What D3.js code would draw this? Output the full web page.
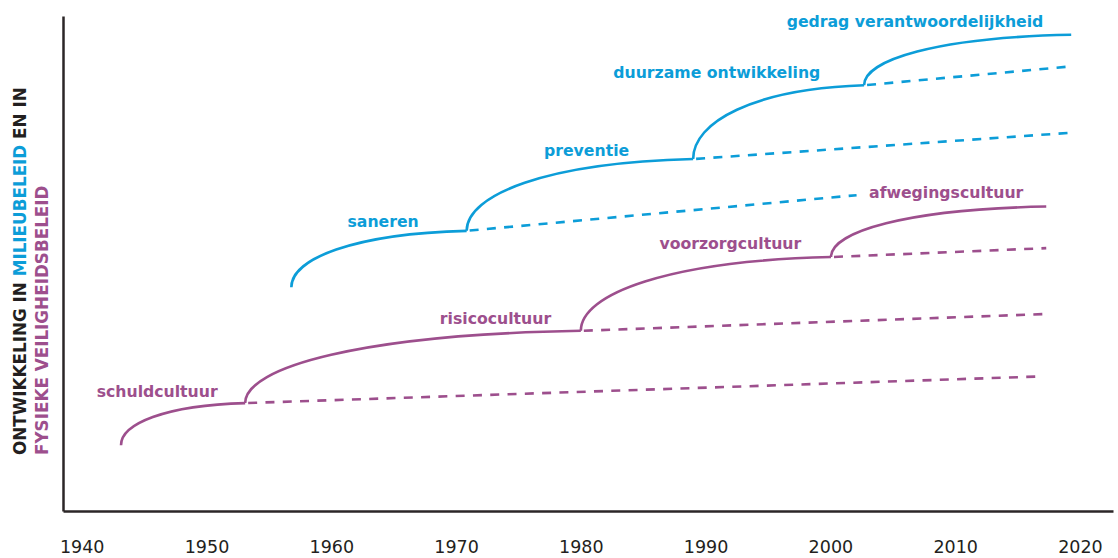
<!DOCTYPE html>
<html lang="nl">
<head>
<meta charset="utf-8">
<title>Ontwikkeling milieubeleid en fysieke veiligheidsbeleid</title>
<script src="https://d3js.org/d3.v7.min.js"></script>
<style>
    body { margin: 0; background: #fff; }
    .axis path { stroke: #2b2627; stroke-width: 2.5; }
    .axis text { font-family: "DejaVu Sans", Verdana, sans-serif; font-size: 17.5px; fill: #231f20; }
    .phase { font-family: "DejaVu Sans", Verdana, sans-serif; font-weight: bold; font-size: 15.7px; }
    .ylabel { font-family: "DejaVu Sans", Verdana, sans-serif; font-weight: bold; font-size: 16.8px; }
</style>
</head>
<body>
<svg width="1118" height="558"></svg>
<script>
// tick labels on the x axis
const years = [1940, 1950, 1960, 1970, 1980, 1990, 2000, 2010, 2020];

// milieubeleid (blue): phase names, knot points where one phase turns into the next
const blueLabels = ['saneren', 'preventie', 'duurzame ontwikkeling', 'gedrag verantwoordelijkheid'];
const blueKnotYears = [1956.8, 1970.85, 1989.0, 2002.7, 2019.3];
const blueKnotLevels = [45.2, 56.6, 71.1, 86.0, 96.2];
// where the dashed continuation of each phase ends
const blueDashYears = [2002.1, 2019.2, 2019.2];
const blueDashLevels = [63.8, 76.4, 89.8];
// label anchors (left edge, baseline)
const blueLabelYears = [1961.3, 1977.05, 1982.6, 1996.5];
const blueLabelLevels = [57.4, 71.7, 87.5, 97.8];

// fysieke veiligheidsbeleid (purple)
const purpleLabels = ['schuldcultuur', 'risicocultuur', 'voorzorgcultuur', 'afwegingscultuur'];
const purpleKnotYears = [1943.15, 1953.1, 1980.0, 2000.05, 2017.3];
const purpleKnotLevels = [13.3, 21.8, 36.4, 51.3, 61.5];
const purpleDashYears = [2017.0, 2017.3, 2017.3];
const purpleDashLevels = [27.2, 39.8, 53.1];
const purpleLabelYears = [1941.2, 1968.7, 1986.3, 2003.1];
const purpleLabelLevels = [23.0, 37.8, 52.9, 63.2];

const blue = '#0c9dd8';
const purple = '#9d4f8d';

const svg = d3.select('svg');

// scales
const x = d3.scaleLinear().domain([1938.5, 2022.65]).range([63, 1113]);
const y = d3.scaleLinear().domain([0, 100]).range([511, 16]);

// axes
svg.append('g')
   .attr('class', 'axis')
   .attr('transform', `translate(0, ${y(0)})`)
   .call(d3.axisBottom(x).tickValues(years).tickFormat(d3.format('d')).tickSize(0).tickPadding(30));

svg.append('g')
   .attr('class', 'axis')
   .attr('transform', `translate(${x(1938.5)}, 0)`)
   .call(d3.axisLeft(y).tickValues([]).tickSizeOuter(0));

// one phase: rises steeply out of the previous knot and flattens out
function phasePath(y0, l0, y1, l1) {
    const p = d3.path();
    const x0 = x(y0), x1 = x(y1), py0 = y(l0), py1 = y(l1);
    const w = x1 - x0, h = py0 - py1;
    p.moveTo(x0, py0);
    p.bezierCurveTo(x0, py0 - 0.5 * h, x0 + 0.35 * w, py1 + 0.05 * h, x1, py1);
    return p.toString();
}

function drawSeries(color, knotYears, knotLevels, dashYears, dashLevels, labels, labelYears, labelLevels) {
    const g = svg.append('g');

    // dashed continuation lines
    g.selectAll('line.dash')
     .data(dashYears)
     .join('line')
     .attr('class', 'dash')
     .attr('x1', (d, i) => x(knotYears[i + 1]))
     .attr('y1', (d, i) => y(knotLevels[i + 1]))
     .attr('x2', (d, i) => x(d))
     .attr('y2', (d, i) => y(dashLevels[i]))
     .style('stroke', color)
     .style('stroke-width', 2.6)
     .style('stroke-dasharray', '9 8.3')
     .style('stroke-dashoffset', -3);

    // solid phase curves
    g.selectAll('path.phase-line')
     .data(labels)
     .join('path')
     .attr('class', 'phase-line')
     .attr('d', (d, i) => phasePath(knotYears[i], knotLevels[i], knotYears[i + 1], knotLevels[i + 1]))
     .style('fill', 'none')
     .style('stroke', color)
     .style('stroke-width', 2.6);

    // phase names
    g.selectAll('text')
     .data(labels)
     .join('text')
     .attr('class', 'phase')
     .attr('x', (d, i) => x(labelYears[i]))
     .attr('y', (d, i) => y(labelLevels[i]))
     .style('fill', color)
     .text(d => d);
}

drawSeries(purple, purpleKnotYears, purpleKnotLevels, purpleDashYears, purpleDashLevels,
           purpleLabels, purpleLabelYears, purpleLabelLevels);
drawSeries(blue, blueKnotYears, blueKnotLevels, blueDashYears, blueDashLevels,
           blueLabels, blueLabelYears, blueLabelLevels);

// y axis title, two lines
const t1 = svg.append('text')
    .attr('class', 'ylabel')
    .attr('transform', 'translate(25.5, 455) rotate(-90)');
t1.append('tspan').style('fill', '#231f20').text('ONTWIKKELING IN ');
t1.append('tspan').style('fill', blue).text('MILIEUBELEID');
t1.append('tspan').style('fill', '#231f20').text(' EN IN');

svg.append('text')
    .attr('class', 'ylabel')
    .attr('transform', 'translate(47.5, 455) rotate(-90)')
    .style('fill', purple)
    .text('FYSIEKE VEILIGHEIDSBELEID');
</script>
</body>
</html>
